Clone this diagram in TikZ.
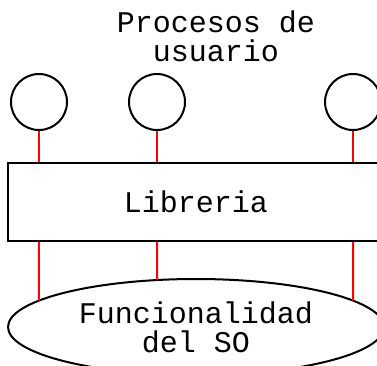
\documentclass[tikz,border=0pt]{standalone}
\usepackage{fontspec}
\setmonofont{Liberation Mono}
\usetikzlibrary{shapes.geometric}
\usetikzlibrary{intersections}

\tikzset{
  proc/.style={draw, circle, line width=2pt, minimum size=56pt, inner sep=0pt},
  caja/.style={draw, line width=2pt, minimum width=376pt, minimum height=78pt, inner sep=0pt},
  nucleo/.style={draw, ellipse, line width=2pt, minimum width=376pt, minimum height=96pt, inner sep=0pt, align=center},
  enlace/.style={red, line width=2pt},
  rotulo/.style={font=\ttfamily\fontsize{30}{29}\selectfont, align=center}
}

\begin{document}
\begin{tikzpicture}[x=1pt, y=1pt]
  \useasboundingbox (0, 0) rectangle (377, -366);
  \node [rotulo] (titulo) at (216, -36) {Procesos de\\usuario};
  \node [proc] (p1) at (39, -102) {};
  \node [proc] (p2) at (157, -102) {};
  \node [proc] (p3) at (353, -102) {};
  \node [caja, rotulo] (lib) at (196, -202) {Libreria};
  \node [nucleo, rotulo, name path=borde] (so) at (196, -327) {Funcionalidad\\del SO};
  % procesos -> libreria
  \foreach \p in {p1, p2, p3}
    \draw [enlace] (\p.south) -- (\p |- lib.north);
  % libreria -> SO
  \foreach \p in {p1, p2, p3} {
    \path [name path=bajada] (\p |- lib.south) -- (\p |- so.south);
    \draw [enlace, name intersections={of=bajada and borde, by=fin}] (\p |- lib.south) -- (fin);
  }
\end{tikzpicture}
\end{document}
